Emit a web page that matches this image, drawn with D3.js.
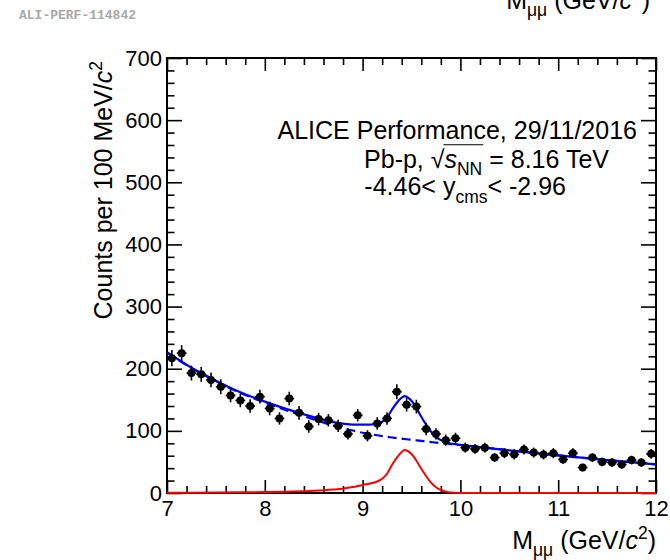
<!DOCTYPE html>
<html>
<head>
<meta charset="utf-8">
<script src="https://cdn.jsdelivr.net/npm/d3@7"></script>
<style>
  body { margin: 0; background: #fff; }
  svg { display: block; }
  text { white-space: pre; }
</style>
</head>
<body>
<svg id="chart" width="670" height="560"></svg>
<script>
// data: 100 MeV bins, counts and stat errors
var binCenters = [7.05, 7.15, 7.25, 7.35, 7.45, 7.55, 7.65, 7.75, 7.85, 7.95,
                  8.05, 8.15, 8.25, 8.35, 8.45, 8.55, 8.65, 8.75, 8.85, 8.95,
                  9.05, 9.15, 9.25, 9.35, 9.45, 9.55, 9.65, 9.75, 9.85, 9.95,
                  10.05, 10.15, 10.25, 10.35, 10.45, 10.55, 10.65, 10.75, 10.85, 10.95,
                  11.05, 11.15, 11.25, 11.35, 11.45, 11.55, 11.65, 11.75, 11.85, 11.95];
var counts = [217, 225, 193, 191, 182, 171, 157, 149, 140, 155,
              136, 120, 152, 129, 107, 119, 117, 108, 95, 125,
              92, 112, 120, 163, 142, 139, 103, 95, 85, 88,
              73, 71, 73, 57, 64, 62, 70, 65, 62, 64,
              54, 64, 41, 57, 50, 49, 46, 53, 49, 63];
var countErrors = [13, 13, 12, 12, 12, 12, 11, 11, 11, 11,
                   11, 10, 11, 11, 10, 10, 10, 10, 9, 10,
                   9, 10, 10, 12, 11, 11, 10, 9, 9, 9,
                   8, 8, 8, 7, 8, 8, 8, 8, 8, 8,
                   7, 8, 6, 7, 7, 7, 7, 7, 7, 8];
var binHalfWidth = 0.05;

// fit curves
var fitX = [7.0, 7.25, 7.5, 7.75, 8.0, 8.25, 8.5, 8.7, 8.8, 8.9,
            9.0, 9.05, 9.1, 9.15, 9.2, 9.25, 9.3, 9.35, 9.4, 9.43,
            9.45, 9.5, 9.55, 9.6, 9.65, 9.7, 9.75, 9.8, 9.85, 9.9,
            10.0, 10.25, 10.5, 11.0, 11.5, 12.0];
var fitBackground = [226, 201, 180, 161, 145.5, 131.5, 118.5, 108.5, 104.5, 100.5,
                     97, 95.6, 94.2, 92.9, 91.6, 90.4, 89.3, 88.3, 87.4, 86.9,
                     86.5, 85.6, 84.7, 83.8, 82.9, 82, 81.1, 80.3, 79.5, 78.7,
                     77.2, 73, 68.7, 60.5, 53, 46];
var fitSignal = [0.5, 0.6, 0.8, 1.1, 1.5, 2.2, 3.5, 5.5, 7, 9.5,
                 13, 14.5, 16, 18.5, 23, 31, 45, 57, 66, 69,
                 68.5, 62.7, 52, 39, 27, 16.6, 9.3, 4.8, 2.2, 0.9,
                 0.1, 0, 0, 0, 0, 0];
var fitTotal = [226.5, 201.6, 180.8, 162.1, 147, 133.7, 122, 114, 111.5, 110,
                110, 110.1, 110.2, 111.4, 114.6, 121.4, 134.3, 145.3, 153.4, 155.9,
                155, 148.3, 136.7, 122.8, 109.9, 98.6, 90.4, 85.1, 81.7, 79.6,
                77.3, 73, 68.7, 60.5, 53, 46];

var xTicks = [7, 8, 9, 10, 11, 12];
var yTicks = [0, 100, 200, 300, 400, 500, 600, 700];

var FONT = "'Liberation Sans', Arial, Helvetica, sans-serif";
var svg = d3.select("#chart");
var frame = {left: 167, right: 656, top: 58, bottom: 493};

var x = d3.scaleLinear().domain([7, 12]).range([frame.left, frame.right]);
var y = d3.scaleLinear().domain([0, 700]).range([frame.bottom, frame.top]);

var xMinor = d3.range(7, 12.001, 0.2).filter(function(v) { return Math.abs(v - Math.round(v)) > 0.01; });
var yMinor = d3.range(0, 701, 20).filter(function(v) { return v % 100 !== 0; });

svg.append("rect").attr("width", 670).attr("height", 560).attr("fill", "#fff");

// watermark + the cut-off copy of the x title at the very top
svg.append("text")
    .attr("x", 19).attr("y", 19)
    .style("font-family", "'Liberation Mono', 'DejaVu Sans Mono', monospace")
    .style("font-weight", "bold")
    .style("font-size", "13px")
    .style("fill", "#a8a8a8")
    .text("ALI-PERF-114842");

// lays out text pieces left to right so that the whole string ends at xEnd
function richText(parent, parts, xEnd, yBase, size) {
    var g = parent.append("g");
    var nodes = parts.map(function(p) {
        var fs = size * (p.scale || 1);
        return g.append("text")
            .attr("y", yBase + (p.shift || 0) * size)
            .attr("xml:space", "preserve")
            .style("font-family", FONT)
            .style("font-size", fs + "px")
            .style("font-style", p.italic ? "italic" : "normal")
            .style("fill", "#000")
            .text(p.t);
    });
    var widths = nodes.map(function(n) { return n.node().getComputedTextLength(); });
    var cx = xEnd - d3.sum(widths);
    var pos = [];
    nodes.forEach(function(n, i) {
        n.attr("x", cx);
        pos.push([cx, cx + widths[i]]);
        cx += widths[i];
    });
    return {g: g, pos: pos};
}

function massTitle(parent, xEnd, yBase) {
    return richText(parent, [
        {t: "M"},
        {t: "μμ", scale: 0.7, shift: 0.28},
        {t: " (GeV/"},
        {t: "c", italic: true},
        {t: "2", scale: 0.7, shift: -0.4},
        {t: ")"}
    ], xEnd, yBase, 25);
}
massTitle(svg, 650, 9);

// axes: ROOT style, ticks inward on all four sides
function tickAxis(axis, transform, values, len) {
    svg.append("g")
        .attr("transform", transform)
        .call(axis.tickValues(values).tickSize(-len).tickFormat(""))
        .call(function(g) { g.select(".domain").remove(); })
        .selectAll("line").attr("stroke", "#000").attr("stroke-width", 1.6);
}

tickAxis(d3.axisBottom(x), "translate(0," + frame.bottom + ")", xMinor, 7);
tickAxis(d3.axisTop(x), "translate(0," + frame.top + ")", xMinor, 7);
tickAxis(d3.axisTop(x), "translate(0," + frame.top + ")", xTicks, 13);
tickAxis(d3.axisLeft(y), "translate(" + frame.left + ",0)", yMinor, 7.5);
tickAxis(d3.axisRight(y), "translate(" + frame.right + ",0)", yMinor, 7.5);
tickAxis(d3.axisRight(y), "translate(" + frame.right + ",0)", yTicks, 15);

var xAxis = svg.append("g")
    .attr("transform", "translate(0," + frame.bottom + ")")
    .call(d3.axisBottom(x).tickValues(xTicks).tickSize(-13).tickPadding(7).tickFormat(d3.format("d")));
var yAxis = svg.append("g")
    .attr("transform", "translate(" + frame.left + ",0)")
    .call(d3.axisLeft(y).tickValues(yTicks).tickSize(-15).tickPadding(5).tickFormat(d3.format("d")));
[xAxis, yAxis].forEach(function(g) {
    g.select(".domain").remove();
    g.selectAll("line").attr("stroke", "#000").attr("stroke-width", 1.6);
    g.selectAll("text").style("font-family", FONT).style("font-size", "22px").style("fill", "#000");
});

svg.append("rect")
    .attr("x", frame.left).attr("y", frame.top)
    .attr("width", frame.right - frame.left).attr("height", frame.bottom - frame.top)
    .attr("fill", "none").attr("stroke", "#000").attr("stroke-width", 2);

// axis titles
massTitle(svg, 656, 549);
var yTitle = svg.append("g").attr("transform", "translate(112," + (frame.top + 3) + ") rotate(-90)");
richText(yTitle, [
    {t: "Counts per 100 MeV/"},
    {t: "c", italic: true},
    {t: "2", scale: 0.7, shift: -0.4}
], 0, 0, 25);

// fit curves
svg.append("clipPath").attr("id", "plot-clip")
    .append("rect")
    .attr("x", frame.left).attr("y", frame.top - 2)
    .attr("width", frame.right - frame.left).attr("height", frame.bottom - frame.top + 4);

var plot = svg.append("g").attr("clip-path", "url(#plot-clip)");

function fitLine(values) {
    return d3.line()
        .x(function(d, i) { return x(fitX[i]); })
        .y(function(d) { return y(d); })
        .curve(d3.curveMonotoneX)(values);
}

plot.append("path")
    .attr("d", fitLine(fitBackground))
    .attr("fill", "none").attr("stroke", "#0000ff").attr("stroke-width", 2.2)
    .attr("stroke-dasharray", "9,5");
plot.append("path")
    .attr("d", fitLine(fitSignal))
    .attr("fill", "none").attr("stroke", "#ff0000").attr("stroke-width", 2);
plot.append("path")
    .attr("d", fitLine(fitTotal))
    .attr("fill", "none").attr("stroke", "#0000ff").attr("stroke-width", 2.2);

// data points with error bars
var pts = plot.selectAll("g.pt")
    .data(counts)
    .enter().append("g").attr("class", "pt");

pts.append("line")
    .attr("x1", function(d, i) { return x(binCenters[i]); })
    .attr("x2", function(d, i) { return x(binCenters[i]); })
    .attr("y1", function(d, i) { return y(d - countErrors[i]); })
    .attr("y2", function(d, i) { return y(d + countErrors[i]); })
    .attr("stroke", "#000").attr("stroke-width", 1.6);
pts.append("line")
    .attr("x1", function(d, i) { return x(binCenters[i] - binHalfWidth); })
    .attr("x2", function(d, i) { return x(binCenters[i] + binHalfWidth); })
    .attr("y1", function(d) { return y(d); })
    .attr("y2", function(d) { return y(d); })
    .attr("stroke", "#000").attr("stroke-width", 1.6);
pts.append("circle")
    .attr("cx", function(d, i) { return x(binCenters[i]); })
    .attr("cy", function(d) { return y(d); })
    .attr("r", 4)
    .attr("fill", "#000");

// labels inside the frame
richText(svg, [{t: "ALICE Performance, 29/11/2016"}], 637, 139, 25);

var line2 = richText(svg, [
    {t: "Pb-p, "},
    {t: "√"},
    {t: "s", italic: true},
    {t: "NN", scale: 0.7, shift: 0.28},
    {t: " = 8.16 TeV"}
], 609, 168, 25);
// root bar over s_NN
line2.g.append("line")
    .attr("x1", line2.pos[1][1] - 1).attr("x2", line2.pos[3][1] + 1)
    .attr("y1", 168 - 25 * 0.93).attr("y2", 168 - 25 * 0.93)
    .attr("stroke", "#000").attr("stroke-width", 1.2);

richText(svg, [
    {t: "-4.46< y"},
    {t: "cms", scale: 0.7, shift: 0.3},
    {t: "< -2.96"}
], 566, 195, 25);
</script>
</body>
</html>
